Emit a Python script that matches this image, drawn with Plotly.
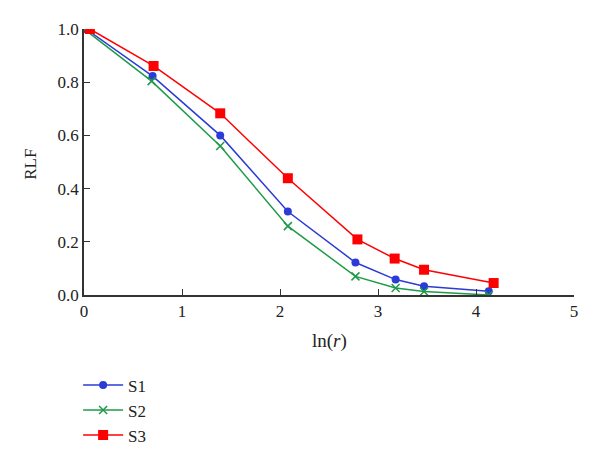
import plotly.graph_objects as go

# ln(r) positions and RLF values
x_s1 = [0.02, 0.70, 1.39, 2.08, 2.77, 3.18, 3.47, 4.13]
rlf_s1 = [1.0, 0.823, 0.600, 0.314, 0.122, 0.058, 0.033, 0.014]

x_s2 = [0.0, 0.69, 1.39, 2.08, 2.77, 3.18, 3.47, 4.13]
rlf_s2 = [1.0, 0.804, 0.560, 0.259, 0.070, 0.026, 0.013, 0.0]

x_s3 = [0.06, 0.71, 1.39, 2.08, 2.79, 3.17, 3.47, 4.18]
rlf_s3 = [1.0, 0.861, 0.683, 0.439, 0.209, 0.137, 0.095, 0.045]

series_names = ["S1", "S2", "S3"]
font_family = "Liberation Serif, Times New Roman, serif"

fig = go.Figure()

fig.add_trace(go.Scatter(x=x_s1, y=rlf_s1, name=series_names[0], mode="lines+markers",
                         line=dict(color="#2a3bd6", width=1.5),
                         marker=dict(symbol="circle", size=8, color="#2a3bd6")))
fig.add_trace(go.Scatter(x=x_s2, y=rlf_s2, name=series_names[1], mode="lines+markers",
                         line=dict(color="#1f9a48", width=1.5),
                         marker=dict(symbol="x-thin", size=8,
                                     line=dict(color="#1f9a48", width=1.5))))
fig.add_trace(go.Scatter(x=x_s3, y=rlf_s3, name=series_names[2], mode="lines+markers",
                         line=dict(color="#ff0000", width=1.5),
                         marker=dict(symbol="square", size=10, color="#ff0000")))

# the page body has an 8px margin, so margins are shifted to compensate
fig.update_layout(
    width=600, height=467,
    margin=dict(l=76, r=34, t=21, b=180),
    plot_bgcolor="white", paper_bgcolor="white",
    font=dict(family=font_family, size=17, color="#222"),
    showlegend=True,
    legend=dict(x=-0.012, y=-0.272, xanchor="left", yanchor="top",
                itemwidth=40, font=dict(size=17), bgcolor="rgba(0,0,0,0)"),
)

# axis titles as annotations so they sit where the reference has them
fig.add_annotation(text="ln(<i>r</i>)", xref="paper", yref="paper", x=0.5, y=-0.173,
                   xanchor="center", yanchor="middle", showarrow=False,
                   font=dict(size=19))
fig.add_annotation(text="RLF", xref="paper", yref="paper", x=-0.109, y=0.492,
                   xanchor="center", yanchor="middle", showarrow=False,
                   textangle=-90, font=dict(size=17))

fig.update_xaxes(range=[0, 5], dtick=1, showgrid=False, zeroline=False,
                 showline=True, linecolor="#333", linewidth=1.5,
                 ticks="inside", ticklen=6, tickcolor="#333", automargin=False)
fig.update_yaxes(range=[0, 1.0], dtick=0.2, tickformat=".1f", showgrid=False,
                 zeroline=False, showline=True, linecolor="#333", linewidth=1.5,
                 ticks="inside", ticklen=6, tickcolor="#333", automargin=False)

fig.write_html("out.html")
